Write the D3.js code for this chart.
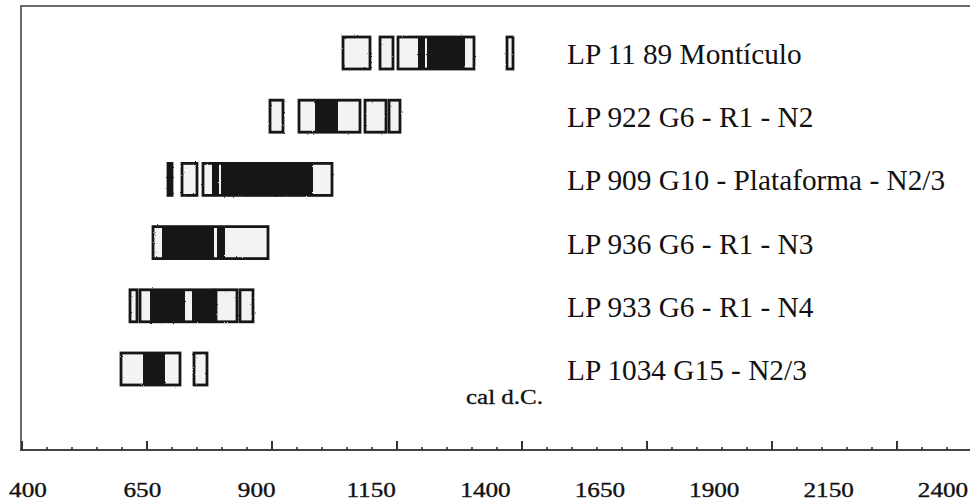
<!DOCTYPE html>
<html><head><meta charset="utf-8">
<script src="https://cdn.jsdelivr.net/npm/d3@7"></script>
<style>body{margin:0;background:#fff}svg{display:block}</style>
</head><body>
<svg id="c" width="970" height="502"></svg>
<script>
// Samples (rows, top to bottom)
const samples = [
  "LP 11 89 Montículo",
  "LP 922 G6 - R1 - N2",
  "LP 909 G10 - Plataforma - N2/3",
  "LP 936 G6 - R1 - N3",
  "LP 933 G6 - R1 - N4",
  "LP 1034 G15 - N2/3"
];
// Outlined ranges (cal AD) per sample
const outlineRanges = [
  [[1042,1096],[1116,1142],[1152,1304],[1370,1382]],
  [[896,922],[954,1076],[1086,1128],[1134,1156]],
  [[692,700],[720,750],[762,1020]],
  [[662,892]],
  [[616,630],[636,784],[788,830],[836,862]],
  [[598,716],[744,770]]
];
// Solid black ranges (cal AD) per sample
const solidRanges = [
  [[1192,1206],[1210,1286]],
  [[986,1032]],
  [[692,700],[780,794],[798,982]],
  [[680,784],[790,806]],
  [[656,726],[740,782]],
  [[642,686]]
];
const tickLabels = [400,650,900,1150,1400,1650,1900,2150,2400];
const axisTitle = "cal d.C.";

const svg = d3.select("#c");
const x = d3.scaleLinear().domain([400,2400]).range([22,1022]);
const xLab = d3.scaleLinear().domain([400,2400]).range([28,943]);
const y = d3.scalePoint().domain(samples).range([53,369]);
const bh = 32;
const serif = "'Liberation Serif','Times New Roman',serif";

// roughness filter for scanned look
const defs = svg.append("defs");
const f = defs.append("filter").attr("id","rough").attr("x","-5%").attr("y","-20%").attr("width","110%").attr("height","140%");
f.append("feTurbulence").attr("type","fractalNoise").attr("baseFrequency","0.9").attr("numOctaves",2).attr("seed",3).attr("result","n");
f.append("feDisplacementMap").attr("in","SourceGraphic").attr("in2","n").attr("scale",1.8);

// frame
svg.append("line").attr("x1",21).attr("x2",970).attr("y1",6).attr("y2",6).attr("stroke","#6b6b6b").attr("stroke-width",2);
svg.append("line").attr("x1",21).attr("x2",21).attr("y1",5).attr("y2",451).attr("stroke","#6b6b6b").attr("stroke-width",2);

// axis
const ax = svg.append("g").attr("transform","translate(0,450)");
ax.append("line").attr("x1",20).attr("x2",970).attr("y1",0).attr("y2",0).attr("stroke","#444").attr("stroke-width",2);
const minorTicks = d3.range(400,2401,50);
ax.selectAll("line.t").data(minorTicks).join("line").attr("class","t")
  .attr("x1",d=>x(d)).attr("x2",d=>x(d)).attr("y1",0)
  .attr("y2",d=>(d-400)%250===0 ? -9 : -3)
  .attr("stroke","#333").attr("stroke-width",d=>(d-400)%250===0?2:1.6);

svg.append("g").selectAll("text").data(tickLabels).join("text")
  .attr("transform",d=>`translate(${xLab(d)},496.5) scale(1.2,1)`)
  .attr("text-anchor","middle")
  .style("font-family",serif)
  .style("font-size","21px").attr("fill","#111")
  .attr("stroke","#111").attr("stroke-width",0.35).text(d=>d);

// rows
const rows = svg.append("g").attr("filter","url(#rough)");
samples.forEach((s,i)=>{
  const g = rows.append("g");
  const cy = y(s);
  g.selectAll("rect.bg").data(outlineRanges[i]).join("rect").attr("class","bg")
    .attr("x",d=>x(d[0])).attr("width",d=>x(d[1])-x(d[0]))
    .attr("y",cy-bh/2).attr("height",bh).attr("fill","#f3f3f3");
  g.selectAll("rect.s").data(solidRanges[i]).join("rect").attr("class","s")
    .attr("x",d=>x(d[0])).attr("width",d=>x(d[1])-x(d[0]))
    .attr("y",cy-bh/2).attr("height",bh).attr("fill","#161616");
  g.selectAll("rect.o").data(outlineRanges[i]).join("rect").attr("class","o")
    .attr("x",d=>x(d[0])).attr("width",d=>x(d[1])-x(d[0]))
    .attr("y",cy-bh/2).attr("height",bh).attr("fill","none")
    .attr("stroke","#161616").attr("stroke-width",2.8);
});

svg.append("g").selectAll("text").data(samples).join("text")
  .attr("x",567).attr("y",d=>y(d)+11)
  .style("font-family",serif)
  .style("font-size","29.3px").attr("fill","#111").text(d=>d);

svg.append("text").attr("transform","translate(466,404) scale(1.25,1)")
  .style("font-family",serif)
  .style("font-size","20px").attr("fill","#111")
  .attr("stroke","#111").attr("stroke-width",0.3).text(axisTitle);
</script>
</body></html>
